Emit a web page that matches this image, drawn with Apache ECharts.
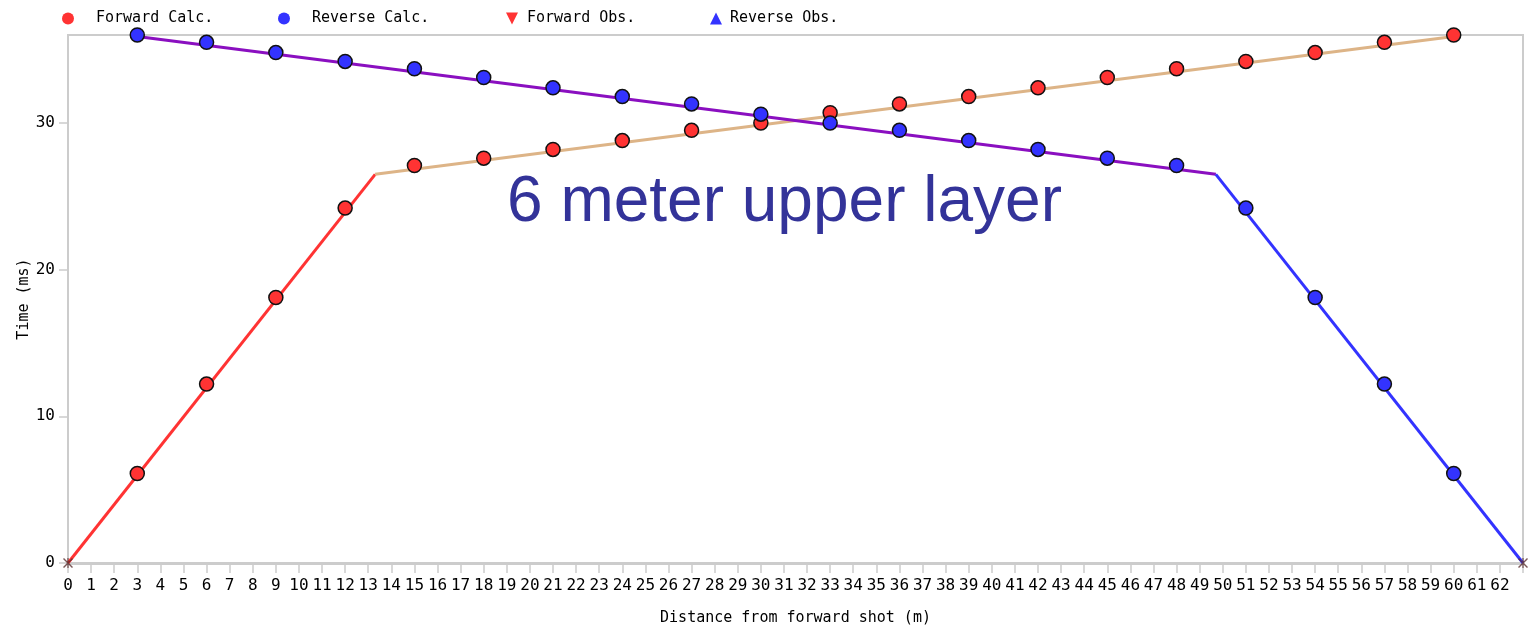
<!DOCTYPE html>
<html>
<head>
<meta charset="utf-8">
<title>Refraction travel times</title>
<script src="https://cdn.jsdelivr.net/npm/echarts@6/dist/echarts.min.js"></script>
<style>
  html, body { margin: 0; padding: 0; background: #ffffff; }
  #chart { width: 1528px; height: 627px; }
</style>
</head>
<body>
<div id="chart"></div>
<script>
// Geophone positions (m) and travel times (ms)
const distances = [3, 6, 9, 12, 15, 18, 21, 24, 27, 30, 33, 36, 39, 42, 45, 48, 51, 54, 57, 60];
const forwardCalc = [6.1, 12.2, 18.1, 24.2, 27.1, 27.6, 28.2, 28.8, 29.5, 30.0, 30.7, 31.3, 31.8, 32.4, 33.1, 33.7, 34.2, 34.8, 35.5, 36.0];
const reverseCalc = [36.0, 35.5, 34.8, 34.2, 33.7, 33.1, 32.4, 31.8, 31.3, 30.6, 30.0, 29.5, 28.8, 28.2, 27.6, 27.1, 24.2, 18.1, 12.2, 6.1];

// Model travel-time branches: direct and refracted arrivals
const forwardDirect = [[0, 0], [13.3, 26.5]];
const forwardRefracted = [[13.3, 26.5], [60, 35.9]];
const reverseRefracted = [[3, 35.9], [49.7, 26.5]];
const reverseDirect = [[49.7, 26.5], [63, 0]];

// Shot locations
const shotPoints = [[0, 0], [63, 0]];

// Axis ticks
const xTickValues = [0, 1, 2, 3, 4, 5, 6, 7, 8, 9, 10, 11, 12, 13, 14, 15, 16, 17, 18, 19, 20,
  21, 22, 23, 24, 25, 26, 27, 28, 29, 30, 31, 32, 33, 34, 35, 36, 37, 38, 39, 40, 41,
  42, 43, 44, 45, 46, 47, 48, 49, 50, 51, 52, 53, 54, 55, 56, 57, 58, 59, 60, 61, 62];
const xTickMarks = xTickValues.concat([63]);
const yTickValues = [0, 10, 20, 30];

const pairs = (xs, ys) => xs.map((x, i) => [x, ys[i]]);

const mono = 'DejaVu Sans Mono';
const red = '#ff3333';
const blue = '#3333ff';

const chart = echarts.init(document.getElementById('chart'), null, { renderer: 'canvas' });

function legendItem(name, left, pad) {
  return {
    data: [name],
    left: left,
    top: 11,
    padding: 0,
    itemWidth: 12,
    itemHeight: 12,
    itemGap: 0,
    selectedMode: false,
    itemStyle: { borderWidth: 0, opacity: 1 },
    textStyle: { fontFamily: mono, fontSize: 15, color: '#000', padding: [0, 0, 0, pad] }
  };
}

chart.setOption({
  animation: false,
  backgroundColor: '#ffffff',
  legend: [
    legendItem('Forward Calc.', 62, 17),
    legendItem('Reverse Calc.', 278, 17),
    legendItem('Forward Obs.', 506, 4),
    legendItem('Reverse Obs.', 710, 3)
  ],
  grid: {
    left: 68, right: 5, top: 35, bottom: 64,
    show: true, borderColor: '#cccccc', borderWidth: 2,
    containLabel: false, outerBoundsMode: 'none'
  },
  xAxis: {
    type: 'value',
    min: 0, max: 63, interval: 1,
    name: 'Distance from forward shot (m)',
    nameLocation: 'middle',
    nameGap: 48,
    nameTextStyle: { fontFamily: mono, fontSize: 15, color: '#000' },
    axisLine: { show: true, lineStyle: { color: '#cccccc', width: 3 } },
    axisTick: { show: true, length: 10, customValues: xTickMarks, lineStyle: { color: '#cccccc', width: 1.5 } },
    axisLabel: { customValues: xTickValues, margin: 15, fontFamily: mono, fontSize: 16, color: '#000', hideOverlap: false },
    splitLine: { show: false }
  },
  yAxis: {
    type: 'value',
    min: 0, max: 36,
    name: 'Time (ms)',
    nameLocation: 'middle',
    nameGap: 36,
    nameRotate: 90,
    nameMoveOverlap: false,
    nameTextStyle: { fontFamily: mono, fontSize: 15, color: '#000' },
    axisLine: { show: true, lineStyle: { color: '#cccccc', width: 2 } },
    axisTick: { show: true, length: 9, customValues: yTickValues, lineStyle: { color: '#cccccc', width: 1.5 } },
    axisLabel: { customValues: yTickValues, margin: 13, fontFamily: mono, fontSize: 16, color: '#000' },
    splitLine: { show: false }
  },
  graphic: [{
    type: 'text',
    left: 507,
    top: 171,
    style: {
      text: '6 meter upper layer',
      fontFamily: 'Liberation Sans',
      fontSize: 64,
      fill: '#333399'
    },
    z: 100
  }],
  series: [
    {
      name: 'fwd-direct', type: 'line', data: forwardDirect, symbol: 'none',
      lineStyle: { color: red, width: 3 }, z: 2, silent: true
    },
    {
      name: 'fwd-refracted', type: 'line', data: forwardRefracted, symbol: 'none',
      lineStyle: { color: '#ddb487', width: 3 }, z: 2, silent: true
    },
    {
      name: 'rev-refracted', type: 'line', data: reverseRefracted, symbol: 'none',
      lineStyle: { color: '#8a0fc0', width: 3 }, z: 2, silent: true
    },
    {
      name: 'rev-direct', type: 'line', data: reverseDirect, symbol: 'none',
      lineStyle: { color: blue, width: 3 }, z: 2, silent: true
    },
    {
      name: 'Forward Calc.', type: 'scatter', data: pairs(distances, forwardCalc),
      symbol: 'circle', symbolSize: 14, z: 3,
      itemStyle: { color: red, borderColor: '#111', borderWidth: 1.5, opacity: 1 }
    },
    {
      name: 'Reverse Calc.', type: 'scatter', data: pairs(distances, reverseCalc),
      symbol: 'circle', symbolSize: 14, z: 3,
      itemStyle: { color: blue, borderColor: '#111', borderWidth: 1.5, opacity: 1 }
    },
    {
      name: 'Forward Obs.', type: 'scatter', data: [],
      symbol: 'path://M0,0 L10,0 L5,10 Z', symbolSize: 12,
      itemStyle: { color: red, opacity: 1 }
    },
    {
      name: 'Reverse Obs.', type: 'scatter', data: [],
      symbol: 'triangle', symbolSize: 12,
      itemStyle: { color: blue, opacity: 1 }
    },
    {
      name: 'shots', type: 'scatter', data: shotPoints, clip: false,
      symbol: 'path://M0,1 L1,0 L10,9 L9,10 Z M9,0 L10,1 L1,10 L0,9 Z M4.4,0 L5.6,0 L5.6,10 L4.4,10 Z',
      symbolSize: 10, z: 4, silent: true,
      itemStyle: { color: '#5a3030' }
    }
  ]
});
</script>
</body>
</html>
